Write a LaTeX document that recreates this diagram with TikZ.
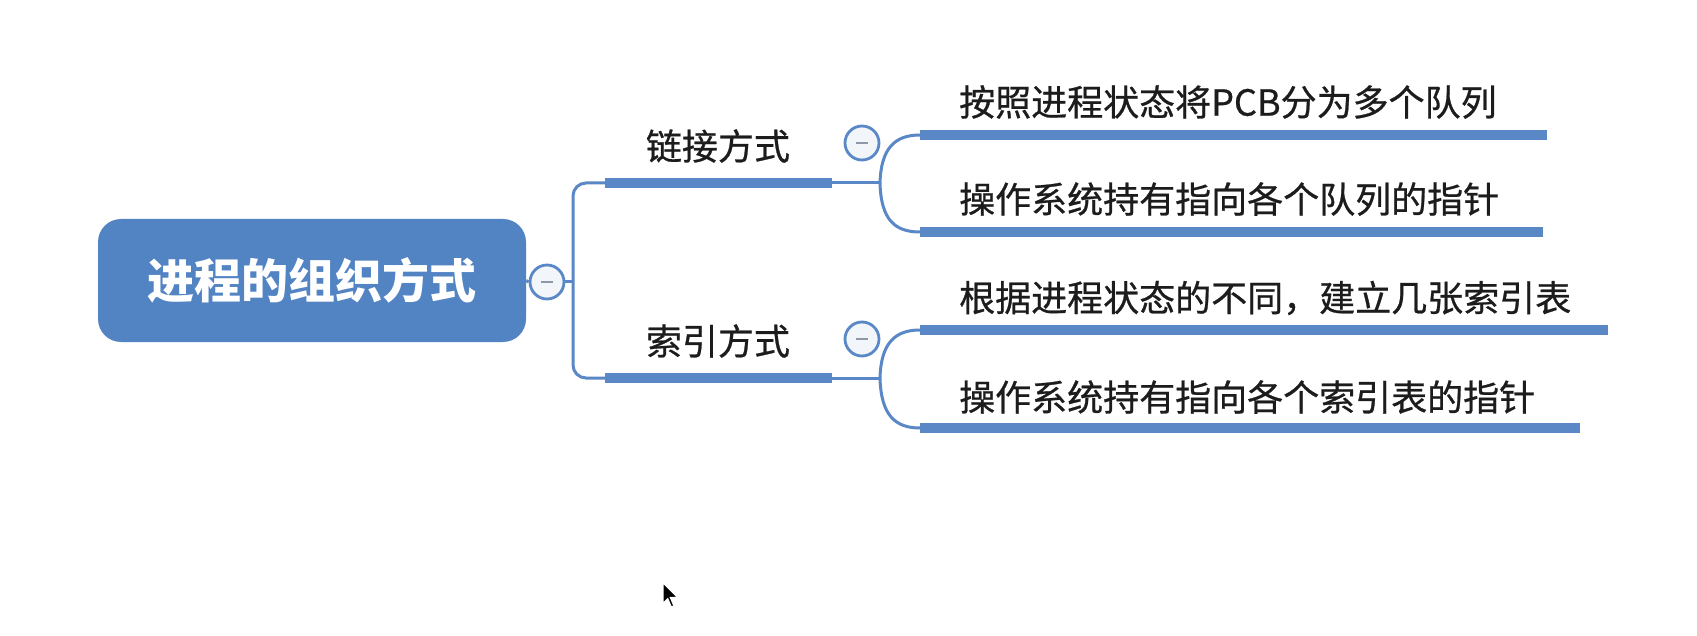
\documentclass[tikz,border=0pt]{standalone}
\usepackage{fontspec}
\newfontfamily\cjk{Noto Sans CJK SC}
\newfontfamily\cjkmed[FakeBold=0.7]{Noto Sans CJK SC}
\definecolor{boxblue}{HTML}{5284C4}
\definecolor{lineblue}{HTML}{5A88C6}
\definecolor{minusgray}{HTML}{8E98A8}
\definecolor{circfill}{HTML}{F2F5FA}
\definecolor{txt}{HTML}{1C1C1C}
\begin{document}
\begin{tikzpicture}[x=1pt,y=-1pt,
  rootbox/.style={fill=boxblue, draw=none, rounded corners=23pt, minimum width=428pt, minimum height=123pt, inner sep=0pt,
    font=\cjk\bfseries\fontsize{47}{50}\selectfont, text=white},
  branchtext/.style={inner sep=0pt, font=\cjkmed\fontsize{36}{40}\selectfont, text=txt},
  leaftext/.style={inner sep=0pt, anchor=west, font=\cjkmed\fontsize{36}{40}\selectfont, text=txt},
  thin/.style={draw=lineblue, line width=3pt},
  bar/.style={draw=lineblue, line width=10pt},
  toggle/.style={circle, draw=lineblue, line width=2.8pt, fill=circfill, minimum size=34pt, inner sep=0pt},
]
\useasboundingbox (0,0) rectangle (1697,636);
\fill[white] (0,0) rectangle (1697,636);

% root
\node[rootbox] (root) at (312,280.5) {进程的组织方式};
\node[toggle] (t0) at (547,282) {};
\coordinate (bt) at (573,183);
\coordinate (bb) at (573,378);

% branches
\coordinate (b1s) at (605,183);
\coordinate (b1e) at (832,183);
\coordinate (f1) at (880,183);
\coordinate (b2s) at (605,378);
\coordinate (b2e) at (832,378);
\coordinate (f2) at (880,378);
\node[branchtext] (n1) at (718,146) {链接方式};
\node[branchtext] (n2) at (718,341) {索引方式};
\node[toggle] (t1) at (862,143) {};
\node[toggle] (t2) at (862,339) {};

% leaves
\coordinate (c1s) at (920,135); \coordinate (c1e) at (1547,135);
\coordinate (c2s) at (920,232); \coordinate (c2e) at (1543,232);
\coordinate (c3s) at (920,330); \coordinate (c3e) at (1608,330);
\coordinate (c4s) at (920,428); \coordinate (c4e) at (1580,428);
\node[leaftext] (l1) at (959,102) {按照进程状态将PCB分为多个队列};
\node[leaftext] (l2) at (959,199) {操作系统持有指向各个队列的指针};
\node[leaftext] (l3) at (959,298) {根据进程状态的不同，建立几张索引表};
\node[leaftext] (l4) at (959,397) {操作系统持有指向各个索引表的指针};

% connectors
\draw[thin] (root.east) -- (t0.west);
\draw[thin] (t0.east) -- (bt |- t0.east);
\draw[thin, rounded corners=13pt] (b1s) -- (bt) -- (bb) -- (b2s);
\draw[bar] (b1s) -- (b1e);
\draw[bar] (b2s) -- (b2e);
\draw[thin] (b1e) -- (f1);
\draw[thin] (b2e) -- (f2);
\draw[thin] (f1) .. controls (881,148) and (895,135) .. (c1s);
\draw[thin] (f1) .. controls (881,220) and (895,232) .. (c2s);
\draw[thin] (f2) .. controls (881,343) and (895,330) .. (c3s);
\draw[thin] (f2) .. controls (881,415) and (895,428) .. (c4s);
\draw[bar] (c1s) -- (c1e);
\draw[bar] (c2s) -- (c2e);
\draw[bar] (c3s) -- (c3e);
\draw[bar] (c4s) -- (c4e);

% toggle minus signs
\foreach \t in {t0,t1,t2}
  \draw[minusgray, line width=2.5pt] ([xshift=-6pt]\t.center) -- ([xshift=6pt]\t.center);

% mouse cursor
\filldraw[fill=black, draw=white, line width=1pt, shift={(663,583)}, scale=1.2]
  (0,0) -- (0,17) -- (4,13) -- (7,20) -- (9,19) -- (6,12) -- (12,12) -- cycle;
\end{tikzpicture}
\end{document}
